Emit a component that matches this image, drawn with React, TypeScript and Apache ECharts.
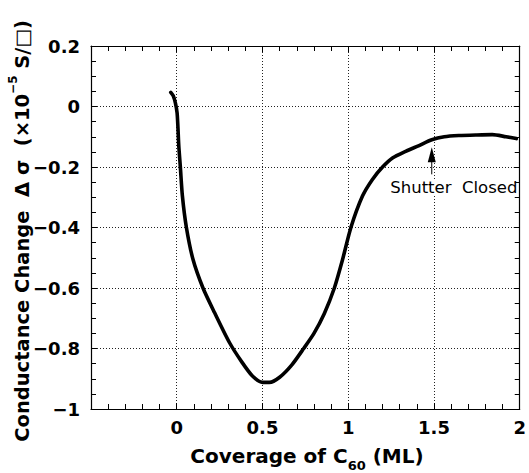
import React, { useEffect, useRef } from 'react';
import * as echarts from 'echarts';

const coverage = [-0.035, -0.02, -0.008, 0.002, 0.007, 0.012, 0.021, 0.033, 0.056, 0.095, 0.153, 0.221, 0.308, 0.38, 0.44, 0.5, 0.54, 0.6, 0.67, 0.74, 0.8, 0.86, 0.919, 0.965, 1.016, 1.083, 1.141, 1.2, 1.258, 1.335, 1.413, 1.487, 1.56, 1.645, 1.75, 1.84, 1.92, 1.98];
const conductance = [0.047, 0.035, 0.012, -0.021, -0.07, -0.131, -0.2, -0.296, -0.399, -0.506, -0.6, -0.682, -0.781, -0.845, -0.89, -0.912, -0.912, -0.895, -0.855, -0.8, -0.75, -0.685, -0.6, -0.51, -0.399, -0.296, -0.241, -0.2, -0.17, -0.148, -0.129, -0.11, -0.1, -0.096, -0.094, -0.093, -0.1, -0.106];

const xRange = [-0.5, 2];
const yRange = [-1, 0.2];
const shutterAt = [1.487, -0.135];
const shutterTextAt = [1.61, -0.268];
const shutterLabel = 'Shutter  Closed';
const xTitle = ['Coverage of C', '60', ' (ML)'];
const yTitle = ['Conductance Change  Δ σ  (×10', '−5', ' S/□)'];

const FONT = 'DejaVu Sans';

const fmt = (v: number) => {
  const r = Math.round(v * 100) / 100;
  return String(r).replace('-', '−');
};

export default function App() {
  const ref = useRef<HTMLDivElement>(null);
  useEffect(() => {
    const chart = echarts.init(ref.current!, null, { renderer: 'svg' });
    const lineCommon = { show: true, onZero: false, lineStyle: { color: '#000', width: 1.2 } };
    const tick = { show: true, inside: true, length: 6, lineStyle: { color: '#000' } };
    const dotted = { show: true, lineStyle: { type: [1, 2], color: '#222', width: 1 } };
    chart.setOption({
      animation: false,
      backgroundColor: '#fff',
      grid: { left: 91, right: 7, top: 46, bottom: 64, containLabel: false },
      xAxis: [
        {
          type: 'value', min: xRange[0], max: xRange[1], interval: 0.5,
          axisLine: lineCommon, axisTick: tick,
          minorTick: { show: true, splitNumber: 5, length: 5, lineStyle: { color: '#000' } },
          splitLine: dotted,
          axisLabel: {
            margin: 9, color: '#000', fontFamily: FONT, fontWeight: 'bold', fontSize: 18,
            formatter: (v: number) => (v <= xRange[0] ? '' : fmt(v)),
          },
        },
        {
          type: 'value', position: 'top', min: xRange[0], max: xRange[1], interval: 0.5,
          axisLine: lineCommon, axisTick: tick,
          minorTick: { show: true, splitNumber: 5, length: 5, lineStyle: { color: '#000' } },
          splitLine: { show: false }, axisLabel: { show: false },
        },
      ],
      yAxis: [
        {
          type: 'value', min: yRange[0], max: yRange[1], interval: 0.2,
          axisLine: lineCommon, axisTick: tick,
          minorTick: { show: true, splitNumber: 4, length: 5, lineStyle: { color: '#000' } },
          splitLine: dotted,
          axisLabel: {
            margin: 11, color: '#000', fontFamily: FONT, fontWeight: 'bold', fontSize: 18,
            formatter: (v: number) => fmt(v),
          },
        },
        {
          type: 'value', position: 'right', min: yRange[0], max: yRange[1], interval: 0.2,
          axisLine: lineCommon, axisTick: tick,
          minorTick: { show: true, splitNumber: 4, length: 5, lineStyle: { color: '#000' } },
          splitLine: { show: false }, axisLabel: { show: false },
        },
      ],
      series: [
        {
          type: 'line',
          data: coverage.map((x, i) => [x, conductance[i]]),
          smooth: 0.25,
          showSymbol: false,
          lineStyle: { color: '#000', width: 3.6, cap: 'round', join: 'round' },
          xAxisIndex: 0, yAxisIndex: 0,
        },
      ],
    });

    const tip = chart.convertToPixel({ xAxisIndex: 0, yAxisIndex: 0 }, shutterAt) as number[];
    const txt = chart.convertToPixel({ xAxisIndex: 0, yAxisIndex: 0 }, shutterTextAt) as number[];

    chart.setOption({
      graphic: [
        {
          type: 'polygon',
          shape: { points: [[tip[0], tip[1]], [tip[0] - 4, tip[1] + 15], [tip[0] + 4, tip[1] + 15]] },
          style: { fill: '#000' },
        },
        {
          type: 'line',
          shape: { x1: tip[0], y1: tip[1] + 14, x2: tip[0], y2: tip[1] + 27 },
          style: { stroke: '#000', lineWidth: 1 },
        },
        {
          type: 'text', x: txt[0] + 1, y: txt[1],
          style: {
            text: shutterLabel, fontFamily: FONT, fontSize: 16.5, fill: '#000',
            align: 'center', verticalAlign: 'middle', backgroundColor: '#fff',
          },
        },
        {
          type: 'text', x: 307, y: 456,
          style: {
            text: `{a|${xTitle[0]}}{s|${xTitle[1]}}{a|${xTitle[2]}}`,
            align: 'center', verticalAlign: 'middle',
            rich: {
              a: { fontFamily: FONT, fontWeight: 'bold', fontSize: 20, fill: '#000', lineHeight: 32, verticalAlign: 'middle' },
              s: { fontFamily: FONT, fontWeight: 'bold', fontSize: 13, fill: '#000', lineHeight: 32, verticalAlign: 'bottom' },
            },
          },
        },
        {
          type: 'text', x: 22, y: 231, rotation: Math.PI / 2,
          style: {
            text: `{a|${yTitle[0]}}{s|${yTitle[1]}}{a|${yTitle[2]}}`,
            align: 'center', verticalAlign: 'middle',
            rich: {
              a: { fontFamily: FONT, fontWeight: 'bold', fontSize: 19.5, fill: '#000', lineHeight: 30, verticalAlign: 'middle' },
              s: { fontFamily: FONT, fontWeight: 'bold', fontSize: 12, fill: '#000', lineHeight: 30, verticalAlign: 'top' },
            },
          },
        },
      ],
    });
    return () => chart.dispose();
  }, []);
  return <div ref={ref} style={{ position: 'fixed', left: 0, top: 0, width: 529, height: 473 }} />;
}
